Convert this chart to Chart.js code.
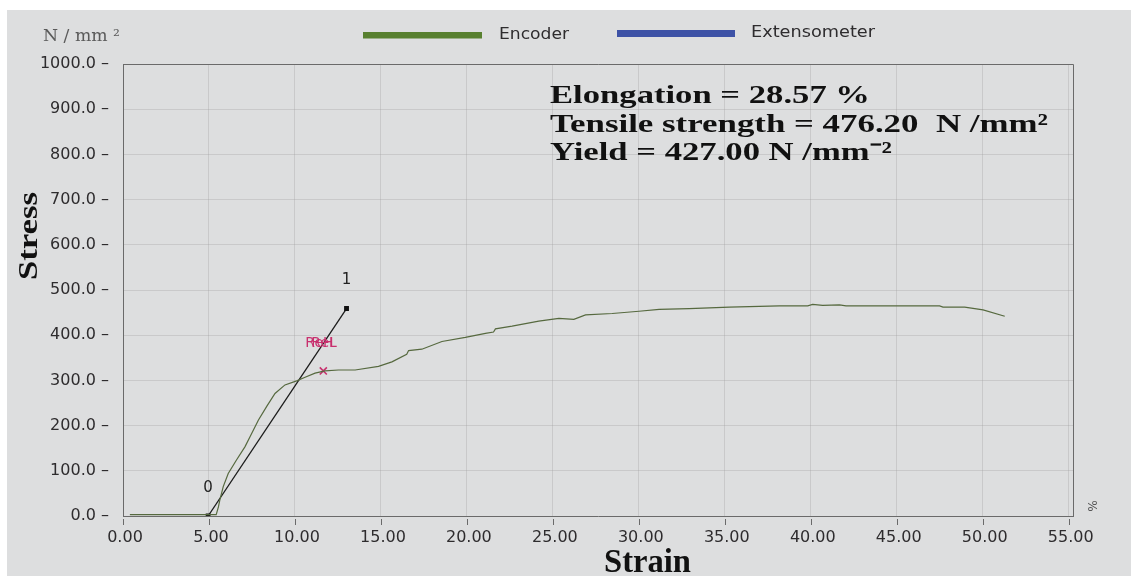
<!DOCTYPE html>
<html>
<head>
<meta charset="utf-8">
<script src="https://cdn.jsdelivr.net/npm/chart.js@4.4.1/dist/chart.umd.min.js"></script>
<style>
  html, body { margin: 0; padding: 0; background: #fff; overflow: hidden; }
  canvas { display: block; }
</style>
</head>
<body>
<canvas id="chart" width="1131" height="576"></canvas>
<script>
// encoder curve (strain %, stress N/mm2)
const encoderStrain = [0.4, 5.0, 5.42, 5.55, 5.63, 5.83, 6.12, 6.60, 7.09, 7.38, 7.87, 8.35, 8.84, 9.42, 10.10, 10.59, 11.17, 11.75, 12.53, 13.50, 14.86, 15.64, 16.50, 16.61, 17.38, 18.55, 19.91, 21.08, 21.55, 21.66, 22.63, 24.18, 25.35, 26.22, 26.90, 28.45, 30.01, 31.18, 32.93, 35.26, 38.17, 39.82, 40.11, 40.69, 41.67, 42.05, 47.49, 47.69, 48.95, 50.02, 51.28];
const encoderStress = [3, 3, 3, 20, 35, 65, 94, 124, 153, 175, 212, 242, 271, 290, 299, 307, 316, 321, 323, 323, 331, 341, 358, 366, 369, 386, 395, 404, 407, 414, 420, 431, 437, 435, 445, 448, 453, 457, 459, 462, 465, 465, 468, 466, 467, 465, 465, 462, 462, 456, 442];

// extensometer: in the legend only, no trace printed
const extensometerStrain = [];
const extensometerStress = [];

// modulus line between marker 0 and marker 1
const slopeStrain = [4.95, 13.0];
const slopeStress = [0, 459];
const slopeLabels = ["0", "1"];

// yield cross and ReH / ReL labels
const yieldStrain = [11.65];
const yieldStress = [321];
const rehStrain = 11.65;
const rehStress = 383;

const strainTicks = [0, 5, 10, 15, 20, 25, 30, 35, 40, 45, 50, 55];
const stressTicks = [0, 100, 200, 300, 400, 500, 600, 700, 800, 900, 1000];

const seriesNames = ["Encoder", "Extensometer"];
const annotationLines = [
  "Elongation = 28.57 %",
  "Tensile strength = 476.20  N /mm\u00B2",
  "Yield = 427.00 N /mm\u207B\u00B2"
];

const paperColor = "rgb(221,222,223)";
const gridColor = "rgba(160,160,160,0.32)";
const axisColor = "#6a6a6a";
const textColor = "#2e2c2e";

function toPoints(xs, ys) {
  return xs.map((x, i) => ({ x: x, y: ys[i] }));
}

// draw text squeezed/stretched to the width it has on the print
function fitText(ctx, text, x, y, width, align) {
  const w = ctx.measureText(text).width;
  ctx.save();
  ctx.translate(x, y);
  ctx.scale(width / w, 1);
  ctx.textAlign = align || "left";
  ctx.fillText(text, 0, 0);
  ctx.restore();
}

const paper = {
  id: "paper",
  beforeDraw(chart) {
    const ctx = chart.ctx;
    ctx.save();
    ctx.fillStyle = "#fff";
    ctx.fillRect(0, 0, chart.width, chart.height);
    ctx.fillStyle = paperColor;
    ctx.fillRect(7, 10, chart.width - 7, chart.height - 10);
    ctx.restore();
  }
};

const extras = {
  id: "extras",
  afterDatasetsDraw(chart) {
    const ctx = chart.ctx;
    const a = chart.chartArea;
    const xs = chart.scales.x;
    const ys = chart.scales.y;
    ctx.save();

    // frame top + right
    ctx.strokeStyle = axisColor;
    ctx.lineWidth = 1;
    ctx.beginPath();
    ctx.moveTo(a.left, a.top + 0.5);
    ctx.lineTo(a.right + 0.5, a.top + 0.5);
    ctx.lineTo(a.right + 0.5, a.bottom);
    ctx.stroke();

    // small x tick marks below the axis
    ctx.beginPath();
    strainTicks.forEach(v => {
      const px = Math.round(xs.getPixelForValue(v)) + 0.5;
      ctx.moveTo(px, a.bottom + 3);
      ctx.lineTo(px, a.bottom + 9);
    });
    ctx.stroke();

    // 0 / 1 labels on the modulus line
    const meta = chart.getDatasetMeta(2);
    ctx.fillStyle = "#222";
    ctx.font = "15px 'DejaVu Sans'";
    ctx.textAlign = "center";
    ctx.textBaseline = "middle";
    meta.data.forEach((pt, i) => {
      ctx.fillText(slopeLabels[i], pt.x, pt.y - 28);
    });

    // ReH / ReL printed on top of each other
    ctx.fillStyle = "#c8306e";
    ctx.font = "14px 'DejaVu Sans'";
    ctx.textAlign = "left";
    const rx = xs.getPixelForValue(rehStrain) - 18;
    const ry = ys.getPixelForValue(rehStress);
    ctx.fillText("ReH", rx, ry);
    ctx.fillText("ReL", rx + 6, ry);

    // % unit at the end of the x axis
    ctx.fillStyle = "#555";
    ctx.font = "12px 'DejaVu Sans'";
    ctx.save();
    ctx.translate(a.right + 18, a.bottom - 10);
    ctx.rotate(Math.PI / 2);
    ctx.textAlign = "center";
    ctx.fillText("%", 0, 0);
    ctx.restore();
    ctx.restore();
  },
  afterDraw(chart) {
    const ctx = chart.ctx;
    ctx.save();
    ctx.textBaseline = "alphabetic";

    // unit above y axis
    ctx.fillStyle = "#5a5a5a";
    ctx.font = "16px 'DejaVu Serif'";
    fitText(ctx, "N / mm \u00B2", 43, 41, 77);

    // legend
    const ds = chart.data.datasets;
    const bars = [[363, 32, 119, 6.5, 499, 39, 70], [617, 30, 118, 7, 751, 37, 124]];
    bars.forEach((b, i) => {
      ctx.fillStyle = ds[i].legendColor;
      ctx.fillRect(b[0], b[1], b[2], b[3]);
      ctx.fillStyle = textColor;
      ctx.font = "16px 'DejaVu Sans'";
      fitText(ctx, seriesNames[i], b[4], b[5], b[6]);
    });

    // results block
    ctx.fillStyle = "#111";
    ctx.font = "bold 26px 'Liberation Serif'";
    const widths = [320, 498, 342];
    const bases = [103, 132, 160];
    annotationLines.forEach((t, i) => fitText(ctx, t, 550, bases[i], widths[i]));

    // axis titles
    ctx.font = "bold 33px 'Liberation Serif'";
    fitText(ctx, "Strain", 604, 572, 87);
    ctx.save();
    ctx.translate(37, 236);
    ctx.rotate(-Math.PI / 2);
    ctx.font = "bold 28px 'Liberation Serif'";
    fitText(ctx, "Stress", 0, 0, 88, "center");
    ctx.restore();
    ctx.restore();
  }
};

new Chart(document.getElementById("chart"), {
  type: "line",
  data: {
    datasets: [
      {
        label: seriesNames[0],
        data: toPoints(encoderStrain, encoderStress),
        borderColor: "#56693f",
        legendColor: "#58802f",
        borderWidth: 1.2,
        pointRadius: 0,
        tension: 0
      },
      {
        label: seriesNames[1],
        data: toPoints(extensometerStrain, extensometerStress),
        borderColor: "#3d52a6",
        legendColor: "#3d52a6",
        borderWidth: 1.2,
        pointRadius: 0
      },
      {
        label: "modulus",
        data: toPoints(slopeStrain, slopeStress),
        borderColor: "#1c1c1c",
        borderWidth: 1.3,
        pointStyle: "rect",
        pointRadius: 2.5,
        pointBackgroundColor: "#111",
        pointBorderColor: "#111",
        tension: 0
      },
      {
        label: "yield",
        data: toPoints(yieldStrain, yieldStress),
        showLine: false,
        pointStyle: "crossRot",
        pointRadius: 5,
        pointBorderWidth: 1.6,
        pointBorderColor: "#c8306e"
      }
    ]
  },
  options: {
    responsive: false,
    animation: false,
    devicePixelRatio: 1,
    layout: { padding: { left: 0, top: 64, right: 58, bottom: 0 } },
    plugins: { legend: { display: false }, tooltip: { enabled: false } },
    scales: {
      x: {
        type: "linear",
        min: 0,
        max: 55.25,
        afterFit: s => { s.height = 60; },
        afterBuildTicks: s => { s.ticks = strainTicks.map(v => ({ value: v })); },
        grid: { color: gridColor, lineWidth: 1, drawTicks: false },
        border: { color: axisColor, width: 1 },
        ticks: {
          padding: 12,
          labelOffset: 2,
          maxRotation: 0,
          autoSkip: false,
          color: textColor,
          font: { family: "'DejaVu Sans'", size: 16 },
          callback: v => v.toFixed(2)
        }
      },
      y: {
        min: 0,
        max: 1000,
        afterFit: s => { s.width = 123; },
        afterBuildTicks: s => { s.ticks = stressTicks.map(v => ({ value: v })); },
        grid: { color: gridColor, lineWidth: 1, drawTicks: false },
        border: { color: axisColor, width: 1 },
        ticks: {
          padding: 14,
          color: textColor,
          font: { family: "'DejaVu Sans'", size: 16 },
          callback: v => v.toFixed(1) + " \u2013"
        }
      }
    }
  },
  plugins: [paper, extras]
});
</script>
</body>
</html>
